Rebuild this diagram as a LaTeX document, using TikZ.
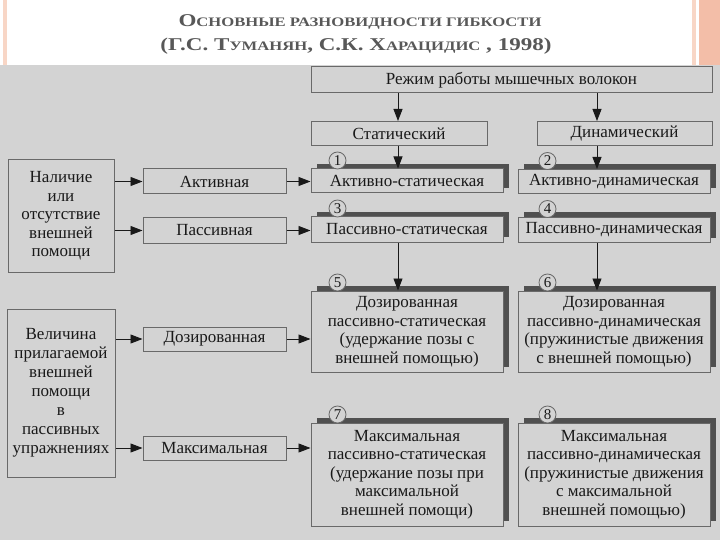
\documentclass[tikz,border=0pt]{standalone}
\usepackage{fontspec}
\setmainfont{Liberation Serif}
\newfontfamily\titlefont[FakeStretch=1.28]{Liberation Serif}
\usetikzlibrary{arrows.meta,shadows}
\definecolor{panel}{RGB}{211,211,211}
\definecolor{edge}{RGB}{105,105,105}
\definecolor{shade}{RGB}{80,80,80}
\definecolor{ink}{RGB}{25,25,25}
\definecolor{heading}{RGB}{88,88,88}
\definecolor{salmon}{RGB}{243,190,168}
\definecolor{salmonlt}{RGB}{248,214,198}
\newcommand\smc[1]{{\fontsize{13}{20}\selectfont #1}}
\tikzset{
  box/.style={draw=edge, fill=panel, line width=1pt, inner sep=0pt, align=center, text=ink, font=\fontsize{17}{18.5}\selectfont},
  sbox/.style={box, drop shadow={shadow xshift=6pt, shadow yshift=5pt, fill=shade, opacity=1}},
  num/.style={circle, draw=edge, fill=panel, line width=0.8pt, inner sep=0pt, minimum size=17pt, text=ink, font=\fontsize{15}{15}\selectfont},
  arr/.style={draw=ink, line width=0.9pt, -{Triangle[length=12pt,width=9pt]}},
  title/.style={anchor=base, text=heading, font=\titlefont\fontsize{18}{20}\selectfont\bfseries}
}
\begin{document}
\begin{tikzpicture}[x=1pt,y=-1pt]
  \useasboundingbox (0,0) rectangle (720,540);
  \fill[white] (0,0) rectangle (720,540); \fill[panel] (0,65) rectangle (720,540);
  \fill[salmonlt] (3,0) rectangle (7,65); \fill[salmonlt] (692,0) rectangle (696,65); \fill[salmon] (699,0) rectangle (720,65);
  \node[title] (title1) at (360,27) {О\smc{СНОВНЫЕ РАЗНОВИДНОСТИ ГИБКОСТИ}};
  \node[title] (title2) at (356,51) {(Г.С. Т\smc{УМАНЯН}, С.К. Х\smc{АРАЦИДИС} , 1998)};
  % режим работы
  \node[box, minimum width=401, minimum height=26] (mode) at (511.5,80) {Режим работы мышечных волокон};
  \node[box, minimum width=176, minimum height=24] (stat) at (399,133.5) {Статический};
  \node[box, minimum width=175, minimum height=24] (dyn) at (624.5,133.5) {Динамический};
  \coordinate (cs) at (398,0); \coordinate (cd) at (597,0);
  % виды гибкости
  \node[sbox, minimum width=192, minimum height=24] (b1) at (407,181) {Активно-статическая};
  \node[sbox, minimum width=192, minimum height=24] (b2) at (614,181.5) {Активно-динамическая};
  \node[sbox, minimum width=192, minimum height=25] (b3) at (407,229.5) {Пассивно-статическая};
  \node[sbox, minimum width=192, minimum height=25] (b4) at (614,230) {Пассивно-динамическая};
  \node[sbox, minimum width=192, minimum height=81] (b5) at (407,331.5) {Дозированная\\пассивно-статическая\\(удержание позы с\\внешней помощью)};
  \node[sbox, minimum width=192, minimum height=81] (b6) at (614,331.5) {Дозированная\\пассивно-динамическая\\(пружинистые движения\\с внешней помощью)};
  \node[sbox, minimum width=192, minimum height=103] (b7) at (407,474.5) {Максимальная\\пассивно-статическая\\(удержание позы при\\максимальной\\внешней помощи)};
  \node[sbox, minimum width=192, minimum height=103] (b8) at (614,474.5) {Максимальная\\пассивно-динамическая\\(пружинистые движения\\с максимальной\\внешней помощью)};
  \foreach \b/\k in {b1/1,b3/3,b5/5,b7/7} \node[num] (n\k) at ([xshift=27pt,yshift=8pt]\b.north west) {\k};
  \foreach \b/\k in {b2/2,b4/4,b6/6,b8/8} \node[num] (n\k) at ([xshift=30pt,yshift=8pt]\b.north west) {\k};
  % критерии
  \node[box, minimum width=106, minimum height=112] (help) at (61,216) {Наличие\\или\\отсутствие\\внешней\\помощи};
  \node[box, minimum width=108, minimum height=168, font=\fontsize{17}{19}\selectfont] (size) at (61,393) {Величина\\прилагаемой\\внешней\\помощи\\в\\пассивных\\упражнениях};
  \node[box, minimum width=143, minimum height=25] (act) at (214.5,181.5) {Активная};
  \node[box, minimum width=143, minimum height=25] (pas) at (214.5,230.5) {Пассивная};
  \node[box, minimum width=143, minimum height=24] (dos) at (214.5,339) {Дозированная};
  \node[box, minimum width=143, minimum height=24] (max) at (214.5,448) {Максимальная};
  % стрелки
  \draw[arr] (mode.south -| cs) -- (stat.north -| cs); \draw[arr] (mode.south -| cd) -- (dyn.north -| cd);
  \draw[arr] (stat.south -| cs) -- (b1.north -| cs); \draw[arr] (dyn.south -| cd) -- (b2.north -| cd);
  \draw[arr] (b3.south -| cs) -- (b5.north -| cs); \draw[arr] (b4.south -| cd) -- (b6.north -| cd);
  \foreach \s/\t in {help/act,help/pas,size/dos,size/max} \draw[arr] (\s.east |- \t) -- (\t.west);
  \foreach \s/\t in {act/b1,pas/b3,dos/b5,max/b7} \draw[arr] (\s.east) -- (\s.east -| \t.west);
\end{tikzpicture}
\end{document}
